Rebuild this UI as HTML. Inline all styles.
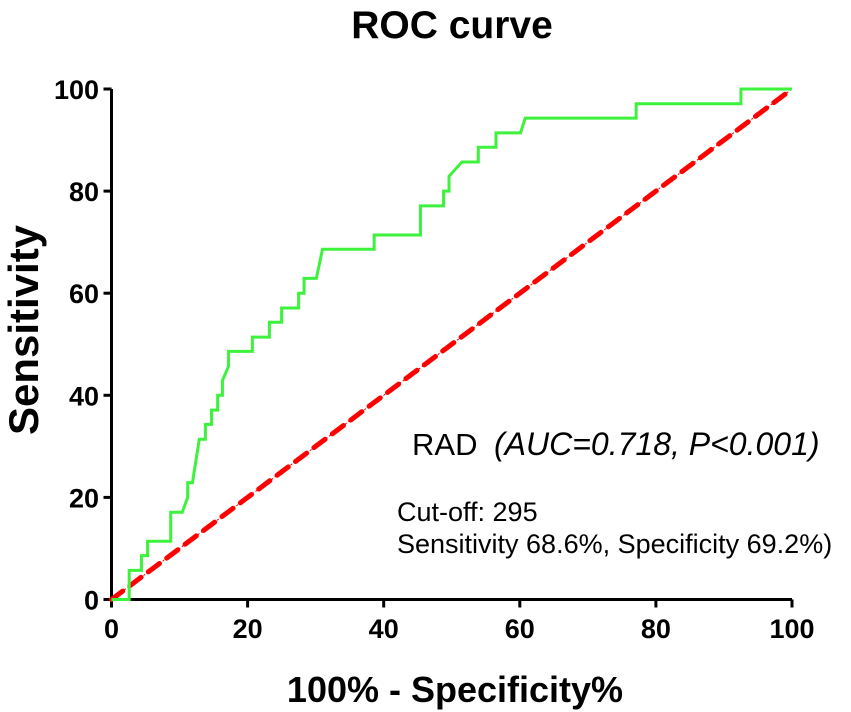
<!DOCTYPE html>
<html><head><meta charset="utf-8"><style>
body{margin:0;background:#fff;}
svg{display:block;font-family:"Liberation Sans",Arial,sans-serif;}
</style></head><body>
<svg id="chart" width="851" height="712" viewBox="0 0 851 712">
<text x="452" y="38" text-anchor="middle" font-size="39" font-weight="bold">ROC curve</text>
<text x="455" y="702" text-anchor="middle" font-size="36" font-weight="bold">100% - Specificity%</text>
<text transform="translate(38,330) rotate(-90)" text-anchor="middle" font-size="42" font-weight="bold">Sensitivity</text>
<g id="axes"></g>
<g id="series"></g>
<text x="412" y="455" font-size="31">RAD</text>
<text x="494" y="455" font-size="32" font-style="italic">(AUC=0.718, P&lt;0.001)</text>
<text x="397" y="521" font-size="27">Cut-off: 295</text>
<text x="397" y="553" font-size="27">Sensitivity 68.6%, Specificity 69.2%)</text>
</svg>
<script>
const xTicks=[0,20,40,60,80,100];
const yTicks=[0,20,40,60,80,100];
const fpr=[0,2.6,2.6,4.4,4.4,5.3,5.3,8.7,8.7,10.4,11.2,11.2,11.9,12.9,13.8,13.8,14.7,14.7,15.6,15.6,16.3,16.3,17.2,17.2,20.7,20.7,23.2,23.2,25.0,25.0,27.5,27.5,28.3,28.3,30.1,31.0,38.6,38.6,45.4,45.4,48.8,48.8,49.6,49.6,51.5,53.9,53.9,56.5,56.5,60.1,60.8,77.1,77.1,92.5,92.5,100];
const tpr=[0,0,5.7,5.7,8.6,8.6,11.4,11.4,17.1,17.1,20.0,22.9,22.9,31.4,31.4,34.3,34.3,37.1,37.1,40.0,40.0,42.9,45.7,48.6,48.6,51.4,51.4,54.3,54.3,57.1,57.1,60.0,60.0,62.9,62.9,68.6,68.6,71.4,71.4,77.1,77.1,80.0,80.0,82.9,85.7,85.7,88.6,88.6,91.4,91.4,94.3,94.3,97.1,97.1,100,100];
const refX=[0,100], refY=[0,100];
const X0=111.5,X1=792,Y0=599.5,Y1=89;
const sx=v=>X0+(X1-X0)*v/100, sy=v=>Y0-(Y0-Y1)*v/100;
const NS="http://www.w3.org/2000/svg";
const axes=document.getElementById('axes'), ser=document.getElementById('series');
function mk(tag,at,parent){const e=document.createElementNS(NS,tag);for(const k in at)e.setAttribute(k,at[k]);parent.appendChild(e);return e;}
const xa=mk('line',{x1:X0,y1:Y0,x2:X1,y2:Y0,stroke:'#000','stroke-width':3},axes);


const ya=mk('line',{x1:X0,y1:Y0+1.5,x2:X0,y2:Y1,stroke:'#000','stroke-width':3},axes);


xTicks.forEach(t=>{
 const l=mk('line',{x1:sx(t),y1:Y0,x2:sx(t),y2:Y0+8,stroke:'#000','stroke-width':3},axes);
 
 
 const tx=mk('text',{x:sx(t),y:638,'text-anchor':'middle','font-size':27,'font-weight':'bold'},axes);
 tx.textContent=t;
 
 
});
yTicks.forEach(t=>{
 const l=mk('line',{x1:X0-8,y1:sy(t),x2:X0,y2:sy(t),stroke:'#000','stroke-width':3},axes);
 
 
 const tx=mk('text',{x:99,y:sy(t)+10,'text-anchor':'end','font-size':27,'font-weight':'bold'},axes);
 tx.textContent=t;
 
 
});
const rp=refX.map((v,i)=>sx(v)+','+sy(refY[i])).join(' ');
const r1=mk('polyline',{points:rp,fill:'none',stroke:'#e00','stroke-width':1,'stroke-dasharray':'2 2'},ser);


const r2=mk('polyline',{points:rp,fill:'none',stroke:'#f00','stroke-width':5,'stroke-dasharray':'14 9','stroke-linecap':'round'},ser);


const gp=fpr.map((v,i)=>sx(v)+','+sy(tpr[i])).join(' ');
const g=mk('polyline',{points:gp,fill:'none',stroke:'#3df23d','stroke-width':3},ser);


</script>
</body></html>
